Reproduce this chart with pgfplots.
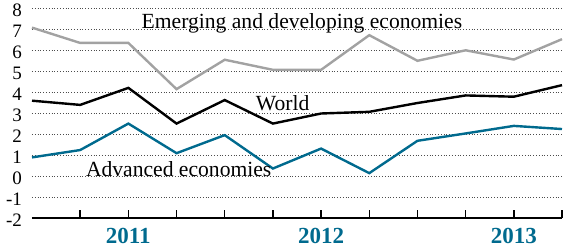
\documentclass[border=0pt]{standalone}
\usepackage{pgfplots}
\pgfplotsset{compat=1.18}
\usepackage{fontspec}
\setmainfont{Liberation Serif}
\definecolor{adv}{HTML}{006A8E}
\definecolor{emg}{HTML}{A2A2A2}
\begin{document}
\begin{tikzpicture}
\begin{axis}[
  name=ax,
  scale only axis, width=265pt, height=105pt,
  xmin=0, xmax=11, ymin=-2, ymax=8,
  axis x line=bottom, axis y line=left,
  axis line style={-},
  x axis line style={line width=1.1pt},
  y axis line style={draw=none},
  xtick={1,...,11}, xticklabels={},
  tick align=inside,
  major tick length=4pt,
  x tick style={black, line width=0.7pt},
  ytick={-2,...,8},
  y tick style={draw=none},
  yticklabel style={font=\fontsize{9.5}{10}\selectfont, xshift=-1.5pt, yshift=-1.2pt},
  /pgf/number format/assume math mode=true,
  ymajorgrids, grid style={densely dotted, black!70, line width=0.4pt},
  clip=false,
]
\addplot[emg, line width=1.2pt] coordinates {(0,7.08) (1,6.35) (2,6.35) (3,4.15) (4,5.55) (5,5.07) (6,5.07) (7,6.72) (8,5.5) (9,6.0) (10,5.56) (11,6.53)};
\addplot[black, line width=1.2pt] coordinates {(0,3.6) (1,3.4) (2,4.21) (3,2.51) (4,3.63) (5,2.51) (6,2.99) (7,3.07) (8,3.49) (9,3.85) (10,3.79) (11,4.34)};
\addplot[adv, line width=1.2pt] coordinates {(0,0.9) (1,1.25) (2,2.51) (3,1.1) (4,1.96) (5,0.37) (6,1.32) (7,0.15) (8,1.69) (9,2.04) (10,2.4) (11,2.25)};
\node[anchor=base west, font=\fontsize{10.8}{12}\selectfont] at (axis cs:2.13,7.02) {Emerging and developing economies};
\node[anchor=base west, font=\fontsize{10.8}{12}\selectfont] at (axis cs:4.5,3.12) {World};
\node[anchor=base west, font=\fontsize{10.8}{12}\selectfont] at (axis cs:0.975,0.0) {Advanced economies};
\node[anchor=base, text=adv, font=\fontsize{11.5}{12}\selectfont\bfseries, yshift=-12.5pt] at (axis cs:2,-2) {2011};
\node[anchor=base, text=adv, font=\fontsize{11.5}{12}\selectfont\bfseries, yshift=-12.5pt] at (axis cs:6,-2) {2012};
\node[anchor=base, text=adv, font=\fontsize{11.5}{12}\selectfont\bfseries, yshift=-12.5pt] at (axis cs:10,-2) {2013};
\end{axis}
\pgfresetboundingbox
\path[use as bounding box] ([shift={(-16pt,-15pt)}]ax.south west) rectangle ([shift={(0.5pt,4.15pt)}]ax.north east);
\end{tikzpicture}
\end{document}
